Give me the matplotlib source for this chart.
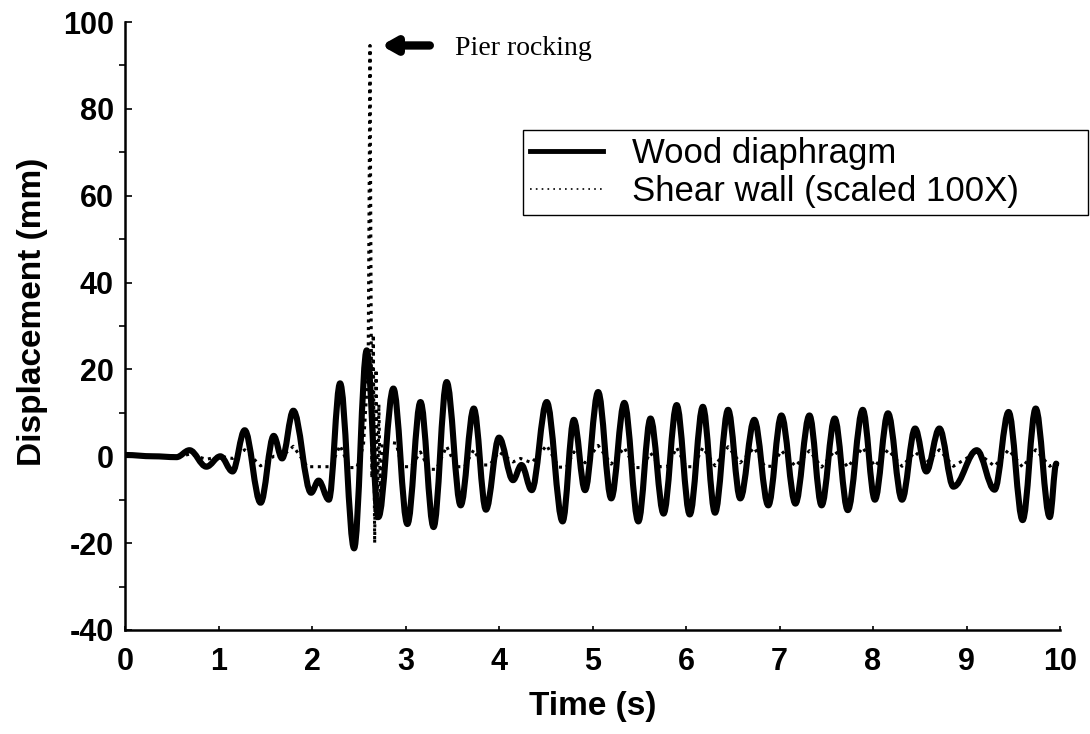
import numpy as np
import matplotlib.pyplot as plt
from matplotlib.path import Path
from matplotlib.patches import PathPatch
from matplotlib.lines import Line2D

# wood diaphragm: times and values of the turning points (s, mm)
wood_t = [0.0, 0.3, 0.55, 0.69, 0.87, 1.02, 1.15, 1.28, 1.45, 1.59, 1.68, 1.80,
          1.99, 2.07, 2.18, 2.30, 2.45, 2.585, 2.71, 2.87, 3.02, 3.16, 3.30, 3.44,
          3.59, 3.73, 3.86, 4.00, 4.15, 4.24, 4.35, 4.51, 4.68, 4.80, 4.92, 5.06,
          5.20, 5.34, 5.49, 5.62, 5.76, 5.90, 6.04, 6.18, 6.31, 6.45, 6.58, 6.73,
          6.88, 7.02, 7.17, 7.32, 7.45, 7.59, 7.73, 7.89, 8.02, 8.16, 8.31, 8.45,
          8.57, 8.71, 8.86, 9.11, 9.30, 9.45, 9.60, 9.74, 9.89, 9.96]
wood_v = [0.3, 0.0, -0.2, 1.4, -2.4, 0.0, -3.5, 6.0, -10.7, 4.7, -0.5, 10.5,
          -8.4, -5.6, -10.0, 16.8, -21.2, 24.4, -14.0, 15.6, -15.6, 12.5, -16.3, 17.1,
          -11.3, 11.0, -12.3, 4.3, -5.5, -2.0, -7.8, 12.5, -15.0, 8.4, -7.8, 14.8,
          -9.7, 12.3, -15.0, 8.7, -13.2, 11.8, -13.4, 11.4, -13.0, 10.7, -9.7, 8.4,
          -11.3, 9.4, -10.9, 9.4, -11.3, 8.7, -12.4, 10.7, -10.0, 9.9, -10.0, 6.4,
          -3.5, 6.4, -7.0, 1.4, -7.7, 10.2, -14.7, 11.0, -14.0, -1.7]

# shear wall (scaled 100X)
wall_t = [0.0, 0.6, 0.69, 0.87, 1.02, 1.15, 1.28, 1.45, 1.59, 1.68, 1.80,
          1.95, 2.20, 2.30, 2.40, 2.48, 2.55, 2.60, 2.62, 2.64, 2.655, 2.67,
          2.685, 2.70, 2.715, 2.73, 2.75, 2.80, 2.90, 2.96, 3.06, 3.16, 3.25,
          3.33, 3.44, 3.54, 3.63, 3.73, 3.82, 3.90, 4.00, 4.15, 4.23, 4.35,
          4.51, 4.64, 4.72, 4.80, 4.92, 5.06, 5.20, 5.34, 5.45, 5.53, 5.62,
          5.72, 5.80, 5.90, 6.00, 6.08, 6.18, 6.31, 6.45, 6.58, 6.73, 6.84,
          6.92, 7.02, 7.17, 7.32, 7.45, 7.59, 7.73, 7.89, 8.02, 8.16, 8.31,
          8.45, 8.57, 8.71, 8.86, 9.11, 9.30, 9.45, 9.60, 9.74, 9.89, 9.96]
wall_v = [0.0, 0.0, 0.5, -0.7, 0.0, -0.5, 1.5, -2.2, 0.0, 0.0, 2.3,
          -2.4, -2.4, 2.5, -2.6, -2.6, 2.5, 20.0, 94.6, -5.0, 28.0, -20.0,
          20.0, -15.0, 12.0, -8.0, 3.0, 3.3, 3.0, -2.4, -2.4, 1.0, -3.0,
          -3.0, 2.3, -2.4, -2.4, 1.5, -2.0, -2.0, 1.0, -1.3, -0.5, -1.5,
          2.5, -2.5, -2.5, 1.0, -1.5, 2.5, -1.8, 2.0, -2.6, -2.6, 0.8,
          -2.4, -2.4, 2.0, -2.4, -2.4, 2.0, -2.2, 2.2, -1.5, 2.0, -2.3,
          -2.3, 1.3, -2.3, 1.3, -2.5, 1.3, -2.5, 2.0, -2.3, 1.5, -2.3,
          1.0, -1.5, 1.5, -2.3, 1.0, -2.3, 1.5, -2.5, 1.5, -2.3, -1.3]

x_ticks = list(range(0, 11))
y_ticks = list(range(-40, 101, 20))


def smooth_path(ts, vs, k=0.36):
    # cubic bezier between turning points, flat tangent at each one
    verts = [(ts[0], vs[0])]
    codes = [Path.MOVETO]
    for i in range(len(ts) - 1):
        dt = ts[i + 1] - ts[i]
        verts += [(ts[i] + k * dt, vs[i]), (ts[i + 1] - k * dt, vs[i + 1]), (ts[i + 1], vs[i + 1])]
        codes += [Path.CURVE4] * 3
    return Path(verts, codes)


plt.rcParams['font.family'] = ['Liberation Sans', 'DejaVu Sans']
plt.rcParams['axes.unicode_minus'] = False

fig = plt.figure(figsize=(10.9, 7.34), dpi=100)
ax = fig.add_axes([0.1147, 0.1417, 0.8578, 0.8283])

ax.add_patch(PathPatch(smooth_path(wood_t, wood_v), fill=False, lw=4.4, ec='black',
                       capstyle='round', joinstyle='round', zorder=3))
ax.plot(wall_t, wall_v, ls=(0, (1, 1.5)), lw=2.2, color='black', zorder=4)

ax.set_xlim(0, 10)
ax.set_ylim(-40, 100)
ax.set_xticks(x_ticks)
ax.set_yticks(y_ticks)
ax.set_yticks(range(-30, 100, 20), minor=True)
ax.tick_params(direction='in', width=1.2, labelsize=22)
ax.tick_params(axis='y', which='major', length=5, pad=8)
ax.tick_params(axis='y', which='minor', length=4, width=1.2)
ax.tick_params(axis='x', length=3, pad=12)
for lab in ax.get_xticklabels() + ax.get_yticklabels():
    lab.set_fontweight('bold')

for s in ['top', 'right']:
    ax.spines[s].set_visible(False)
for s in ['left', 'bottom']:
    ax.spines[s].set_linewidth(1.8)

ax.set_xlabel('Time (s)', fontsize=24, fontweight='bold')
ax.set_ylabel('Displacement (mm)', fontsize=24, fontweight='bold')
ax.xaxis.set_label_coords(0.50, -0.100)
ax.yaxis.set_label_coords(-0.082, 0.523)

handles = [Line2D([], [], color='black', lw=3.5),
           Line2D([], [], color='black', lw=1.2, ls=(0, (1, 2.5)))]
leg = ax.legend(handles, ['Wood diaphragm', 'Shear wall (scaled 100X)'],
                loc='upper left', mode='expand',
                bbox_to_anchor=(523 / 1090, 1 - 212 / 734, 565 / 1090, 82 / 734),
                bbox_transform=fig.transFigure, fontsize=25, frameon=True,
                fancybox=False, edgecolor='black', framealpha=1,
                handlelength=2.1, handletextpad=0.85, labelspacing=0.15,
                borderpad=0.2, borderaxespad=0)
leg.get_frame().set_linewidth(1.0)

ax.annotate('', xy=(2.74, 94.6), xytext=(3.26, 94.6),
            arrowprops=dict(arrowstyle='-|>,head_length=0.8,head_width=0.45',
                            lw=6, color='black', shrinkA=0, shrinkB=0))
ax.text(3.53, 94.0, 'Pier rocking', fontsize=20, va='center', ha='left',
        family=['Liberation Serif', 'DejaVu Serif'])

fig.savefig('out.png', dpi=100)
